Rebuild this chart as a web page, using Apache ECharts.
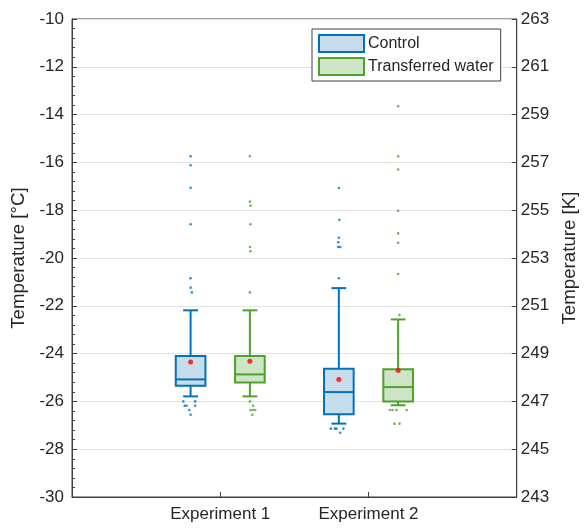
<!DOCTYPE html>
<html><head><meta charset="utf-8">
<script src="https://cdn.jsdelivr.net/npm/echarts@6/dist/echarts.min.js"></script>
<style>html,body{margin:0;padding:0;background:#fff}#c{width:587px;height:528px}</style>
</head><body><div id="c"></div>
<script>
// ---- data (°C) ----
const experiments = ['Experiment 1', 'Experiment 2'];
const seriesNames = ['Control', 'Transferred water'];
// per experiment: [lower whisker, Q1, median, Q3, upper whisker]
const controlBox  = [[-25.79, -25.34, -25.08, -24.10, -22.19], [-26.93, -26.54, -25.61, -24.63, -21.26]];
const transferBox = [[-25.79, -25.21, -24.87, -24.10, -22.19], [-26.16, -26.00, -25.40, -24.66, -22.57]];
const controlMean  = [-24.35, -25.08];
const transferMean = [-24.32, -24.71];
// outliers per experiment: [value, jitter]
const controlOutliers = [
  [[-15.74, 0], [-16.12, 0], [-17.06, 0], [-18.59, 0], [-20.85, 0], [-21.24, 0], [-21.44, 0.009],
   [-26.0, -0.049], [-26.0, 0.031], [-26.18, -0.04], [-26.18, -0.027], [-26.18, 0.031], [-26.36, -0.009], [-26.56, 0]],
  [[-17.07, 0], [-18.40, 0.004], [-19.15, 0], [-19.34, -0.004], [-19.54, -0.004], [-19.54, 0.009], [-20.85, 0],
   [-27.14, -0.054], [-27.14, -0.027], [-27.14, -0.016], [-27.14, 0.031], [-27.31, 0.009]]
];
const transferOutliers = [
  [[-15.74, 0], [-17.64, 0], [-17.81, 0.004], [-18.59, 0.004], [-19.54, 0], [-19.72, 0.004], [-21.44, 0],
   [-26.0, 0], [-26.18, 0.022], [-26.36, 0.004], [-26.36, 0.02], [-26.36, 0.036], [-26.56, 0.016]],
  [[-13.65, 0], [-15.74, 0], [-16.30, 0], [-18.02, 0], [-18.97, 0], [-19.36, 0], [-20.67, 0], [-22.38, 0.009],
   [-26.36, -0.056], [-26.36, -0.038], [-26.36, -0.011], [-26.36, 0.058], [-26.93, -0.025], [-26.93, 0.009]]
];

// ---- style ----
const EDGE = ['#0072BD', '#4DA22B'];
const FILL = ['#C7DDEB', '#CEE4C6'];
const OFFSET = [-0.2, 0.2];
const BOX_W = 0.2;
const AX = '#404040', TXT = '#262626';
const FONT = "'Liberation Sans', Arial, Helvetica, sans-serif";

function boxData(boxes, s) {
  return boxes.map((b, i) => [i + 1 + OFFSET[s]].concat(b));
}
function outlierData(list, s) {
  const out = [];
  list.forEach((arr, i) => arr.forEach(p => out.push([i + 1 + OFFSET[s] + p[1], p[0]])));
  return out;
}
function meanData(means, s) {
  return means.map((m, i) => [i + 1 + OFFSET[s], m]);
}
function renderBox(color, fill) {
  return function (params, api) {
    const x = api.value(0);
    const pLow = api.coord([x, api.value(1)]);
    const pQ1 = api.coord([x, api.value(2)]);
    const pMed = api.coord([x, api.value(3)]);
    const pQ3 = api.coord([x, api.value(4)]);
    const pHigh = api.coord([x, api.value(5)]);
    const bw = api.size([BOX_W, 0])[0];
    const cw = bw / 4;
    const cx = pQ1[0];
    const ls = { stroke: color, lineWidth: 2 };
    return {
      type: 'group', children: [
        { type: 'line', shape: { x1: cx, y1: pQ3[1], x2: cx, y2: pHigh[1] }, style: ls },
        { type: 'line', shape: { x1: cx, y1: pQ1[1], x2: cx, y2: pLow[1] }, style: ls },
        { type: 'line', shape: { x1: cx - cw, y1: pHigh[1], x2: cx + cw, y2: pHigh[1] }, style: ls },
        { type: 'line', shape: { x1: cx - cw, y1: pLow[1], x2: cx + cw, y2: pLow[1] }, style: ls },
        { type: 'rect', shape: { x: cx - bw / 2, y: pQ3[1], width: bw, height: pQ1[1] - pQ3[1] },
          style: { fill: fill, stroke: color, lineWidth: 2 } },
        { type: 'line', shape: { x1: cx - bw / 2, y1: pMed[1], x2: cx + bw / 2, y2: pMed[1] }, style: ls }
      ]
    };
  };
}

const chart = echarts.init(document.getElementById('c'));
const series = [];
[controlBox, transferBox].forEach((b, s) => {
  series.push({
    name: seriesNames[s], type: 'custom', renderItem: renderBox(EDGE[s], FILL[s]),
    encode: { x: 0, y: [1, 2, 3, 4, 5] }, data: boxData(b, s), z: 2,
    itemStyle: { color: FILL[s], borderColor: EDGE[s], borderWidth: 2 }
  });
});
[controlOutliers, transferOutliers].forEach((o, s) => {
  series.push({
    name: seriesNames[s] + ' outliers', type: 'scatter', symbol: 'circle', symbolSize: 2.6,
    data: outlierData(o, s), itemStyle: { color: EDGE[s] }, z: 3
  });
});
[controlMean, transferMean].forEach((m, s) => {
  series.push({
    name: seriesNames[s] + ' mean', type: 'scatter', symbol: 'circle', symbolSize: 5,
    data: meanData(m, s), itemStyle: { color: '#FF0000' }, z: 4
  });
});

chart.setOption({
  animation: false,
  backgroundColor: '#fff',
  textStyle: { fontFamily: FONT },
  grid: { left: 72, right: 69, top: 19, bottom: 31, show: true, borderColor: AX, borderWidth: 1, backgroundColor: 'transparent' },
  legend: {
    left: 312, top: 29, orient: 'vertical', itemWidth: 45, itemHeight: 17, itemGap: 4,
    padding: [5, 7, 5, 6], backgroundColor: '#fff', borderColor: AX, borderWidth: 1, borderRadius: 0,
    textStyle: { fontSize: 16, color: TXT, fontFamily: FONT, padding: [0, 0, 0, -1] },
    data: seriesNames.map((n, s) => ({ name: n, icon: 'rect', itemStyle: { color: FILL[s], borderColor: EDGE[s], borderWidth: 2 } })),
    selectedMode: false
  },
  xAxis: {
    type: 'value', min: 0, max: 3, interval: 1,
    axisLine: { show: true, lineStyle: { color: AX, width: 1 } },
    axisTick: { show: true, inside: true, length: 5, lineStyle: { color: AX } },
    splitLine: { show: false },
    axisLabel: { fontSize: 17, color: TXT, fontFamily: FONT, margin: 9,
      formatter: v => (v === 1 || v === 2) ? experiments[v - 1] : '' }
  },
  yAxis: [{
    type: 'value', min: -30, max: -10, interval: 2, position: 'left',
    axisLine: { show: true, lineStyle: { color: AX, width: 1 } },
    axisTick: { show: true, inside: true, length: 5, lineStyle: { color: AX } },
    minorTick: { show: true, splitNumber: 5, length: 3, lineStyle: { color: AX } },
    splitLine: { show: true, lineStyle: { color: '#E3E3E3', width: 1 } },
    axisLabel: { fontSize: 17, color: TXT, fontFamily: FONT, margin: 8 },
    name: 'Temperature [°C]', nameLocation: 'middle', nameGap: 41, nameRotate: 90,
    nameTextStyle: { fontSize: 18.7, color: TXT, fontFamily: FONT }
  }, {
    type: 'value', min: 243, max: 263, interval: 2, position: 'right',
    axisLine: { show: true, lineStyle: { color: AX, width: 1 } },
    axisTick: { show: true, inside: true, length: 5, lineStyle: { color: AX } },
    splitLine: { show: false },
    axisLabel: { fontSize: 17, color: TXT, fontFamily: FONT, margin: 4 },
    name: 'Temperature [K]', nameLocation: 'middle', nameGap: 40, nameRotate: 90,
    nameTextStyle: { fontSize: 18.7, color: TXT, fontFamily: FONT }
  }],
  series: series
});
</script></body></html>
